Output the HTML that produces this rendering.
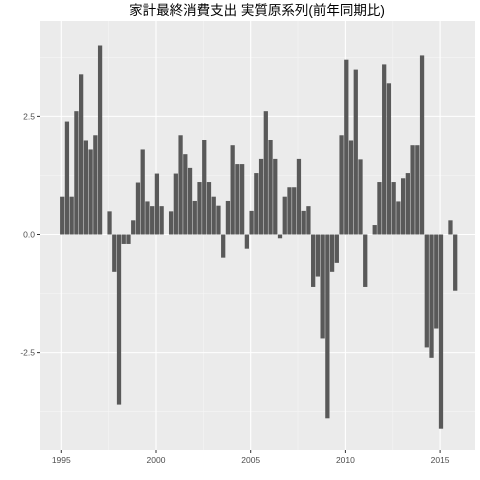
<!DOCTYPE html>
<html><head><meta charset="utf-8"><style>
html,body{margin:0;padding:0;background:#fff;width:480px;height:480px;overflow:hidden}
svg text{font-family:"Liberation Sans","Noto Sans CJK JP",sans-serif}
</style></head><body>
<svg id="chart" width="480" height="480" xmlns="http://www.w3.org/2000/svg">
<text x="257" y="15" font-size="13.5" text-anchor="middle" fill="#000">家計最終消費支出 実質原系列(前年同期比)</text>
<rect x="40" y="21" width="435" height="429" fill="#ebebeb"/>
<g id="grid"></g><g id="bars"></g><g id="axes"></g>
</svg>
<script>
const startYear = 1995;
const values = [0.8,2.39,0.8,2.61, 3.39,1.99,1.8,2.1, 4.0,0,0.49,-0.79, -3.6,-0.2,-0.2,0.3,
1.1,1.8,0.7,0.6, 1.29,0.6,0,0.49, 1.29,2.1,1.7,1.41, 0.71,1.11,2.0,1.11,
0.8,0.61,-0.49,0.71, 1.89,1.49,1.49,-0.3, 0.5,1.3,1.6,2.61, 2.0,1.6,-0.08,0.8,
1.0,1.0,1.6,0.5, 0.6,-1.11,-0.89,-2.2, -3.89,-0.79,-0.6,2.1, 3.7,1.99,3.49,1.59,
-1.11,0,0.2,1.11, 3.6,3.2,1.11,0.7, 1.19,1.3,1.89,1.89, 3.79,-2.39,-2.61,-1.99,
-4.11,0,0.3,-1.19];
const xTicks = [1995,2000,2005,2010,2015];
const yTicks = [-2.5,0,2.5];
const NS="http://www.w3.org/2000/svg";
const x = y => 61.3 + (y-1995)*18.94;
const yv = v => 234.5 - 47.25*v;
function mk(tag, attrs, parent){const e=document.createElementNS(NS,tag);for(const k in attrs)e.setAttribute(k,attrs[k]);parent.appendChild(e);return e;}
const grid=document.getElementById('grid'), bars=document.getElementById('bars'), axes=document.getElementById('axes');
// minor grid
[1997.5,2002.5,2007.5,2012.5].forEach(t=>{const l=mk('line',{x1:x(t),x2:x(t),y1:21,y2:450,stroke:'#f5f5f5','stroke-width':0.6},grid);

});
[-3.75,-1.25,1.25,3.75].forEach(t=>{const l=mk('line',{x1:40,x2:475,y1:yv(t),y2:yv(t),stroke:'#f5f5f5','stroke-width':0.6},grid);

});
xTicks.forEach(t=>{const l=mk('line',{x1:x(t),x2:x(t),y1:21,y2:450,stroke:'#fff','stroke-width':1.1},grid);


mk('line',{x1:x(t),x2:x(t),y1:450,y2:453,stroke:'#333','stroke-width':1},axes);
const tx=mk('text',{x:x(t),y:463,'font-size':8.5,'text-anchor':'middle',fill:'#4d4d4d'},axes);tx.textContent=t;

});
yTicks.forEach(t=>{const l=mk('line',{x1:40,x2:475,y1:yv(t),y2:yv(t),stroke:'#fff','stroke-width':1.1},grid);


mk('line',{x1:37,x2:40,y1:yv(t),y2:yv(t),stroke:'#333','stroke-width':1},axes);
const tx=mk('text',{x:35,y:yv(t)+3,'font-size':8.5,'text-anchor':'end',fill:'#4d4d4d'},axes);tx.textContent=t.toFixed(1);

});
values.forEach((v,i)=>{const c=x(startYear+i/4)+0.9;const w=4.26;
const r=mk('rect',{x:c-w/2,width:w,y:Math.min(yv(v),yv(0)),height:Math.abs(yv(v)-yv(0)),fill:'#595959'},bars);

});
</script>
</body></html>
